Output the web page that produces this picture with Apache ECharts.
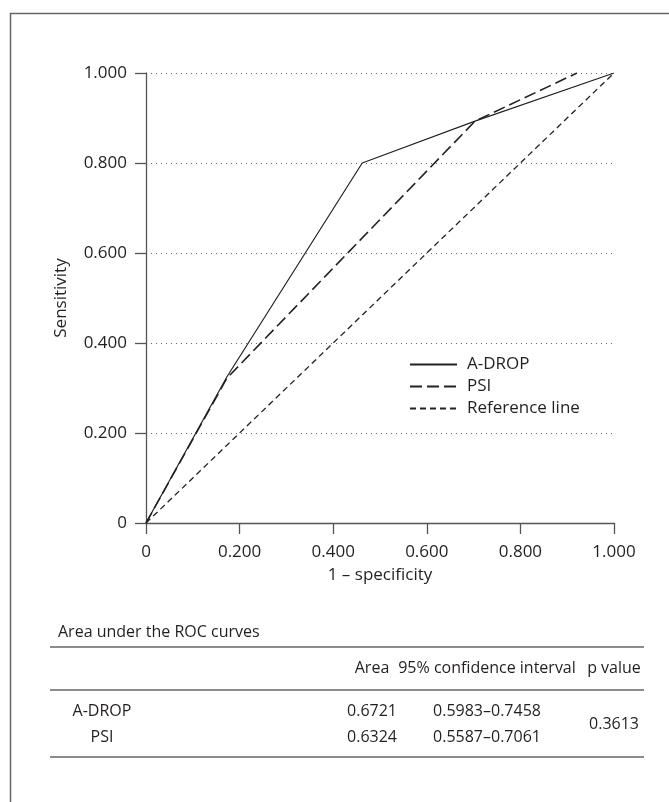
<!DOCTYPE html>
<html>
<head>
<meta charset="utf-8">
<script src="https://cdn.jsdelivr.net/npm/echarts@6/dist/echarts.min.js"></script>
<style>
html,body{margin:0;padding:0;background:#fff;}
#chart{width:669px;height:802px;}
</style>
</head>
<body>
<div id="chart"></div>
<script>
// ---- data ----
const adropX = [0, 0.173, 0.462, 0.703, 1.0];
const adropY = [0, 0.325, 0.800, 0.893, 1.0];
const psiX = [0, 0.173, 0.703, 0.921];
const psiY = [0, 0.322, 0.893, 1.0];
const refX = [0, 1];
const refY = [0, 1];
const seriesNames = ['A-DROP', 'PSI', 'Reference line'];

const tableTitle = 'Area under the ROC curves';
const tableHeader = ['', 'Area', '95% confidence interval', 'p value'];
const rowNames = ['A-DROP', 'PSI'];
const rowAreas = ['0.6721', '0.6324'];
const rowCI = ['0.5983\u20130.7458', '0.5587\u20130.7061'];
const pValue = '0.3613';

const FONT = '"Open Sans", sans-serif';
const TXT = '#231f20';
const AX = '#555';

function pairs(xs, ys) { return xs.map((x, i) => [x, ys[i]]); }
function fmt(v) { return v === 0 ? '0' : v.toFixed(3); }

const chart = echarts.init(document.getElementById('chart'), null, {renderer: 'canvas'});

const colX = [102, 372, 487, 614];
const tableLeft = 50, tableRight = 644;
const lineY = [647, 690, 757];
const headerY = 668;
const rowY = [711, 737];
const TF = '16px ' + FONT;

const graphics = [
  {type: 'rect', shape: {x: 10.5, y: 13.5, width: 800, height: 900},
   style: {fill: 'none', stroke: '#666', lineWidth: 1.5}, silent: true},
  {type: 'text', x: 58, y: 632,
   style: {text: tableTitle, font: TF, fill: TXT, textVerticalAlign: 'middle'}}
];
lineY.forEach(y => graphics.push({type: 'line', shape: {x1: tableLeft, y1: y, x2: tableRight, y2: y},
  style: {stroke: '#666', lineWidth: 1.5}}));
tableHeader.forEach((h, i) => { if (h) graphics.push({type: 'text', x: colX[i], y: headerY,
  style: {text: h, font: TF, fill: TXT, textAlign: 'center', textVerticalAlign: 'middle'}}); });
rowNames.forEach((n, r) => {
  [n, rowAreas[r], rowCI[r]].forEach((t, c) => graphics.push({type: 'text', x: colX[c], y: rowY[r],
    style: {text: t, font: TF, fill: TXT, textAlign: 'center', textVerticalAlign: 'middle'}}));
});
graphics.push({type: 'text', x: colX[3], y: (rowY[0] + rowY[1]) / 2,
  style: {text: pValue, font: TF, fill: TXT, textAlign: 'center', textVerticalAlign: 'middle'}});

const axisCommon = {
  type: 'value', min: 0, max: 1, interval: 0.2,
  axisLine: {show: true, lineStyle: {color: AX, width: 1.3}},
  axisTick: {show: true, length: 11, lineStyle: {color: AX, width: 1.3}},
  axisLabel: {formatter: fmt, fontFamily: FONT, fontSize: 17, color: TXT},
  nameLocation: 'middle',
  nameTextStyle: {fontFamily: FONT, fontSize: 17, color: TXT}
};

chart.setOption({
  animation: false,
  backgroundColor: '#fff',
  grid: {left: 146, right: 55, top: 73, bottom: 279, containLabel: false},
  xAxis: Object.assign({}, axisCommon, {
    name: '1 \u2013 specificity', nameGap: 44,
    splitLine: {show: false},
    axisLabel: Object.assign({}, axisCommon.axisLabel, {margin: 21})
  }),
  yAxis: Object.assign({}, axisCommon, {
    name: 'Sensitivity', nameGap: 76,
    splitLine: {show: true, lineStyle: {type: [1, 4], color: '#666', width: 1}},
    axisLabel: Object.assign({}, axisCommon.axisLabel, {margin: 19})
  }),
  legend: {
    orient: 'vertical', left: 404, top: 351,
    itemWidth: 47, itemHeight: 12, itemGap: 5,
    itemStyle: {opacity: 0},
    textStyle: {fontFamily: FONT, fontSize: 17, color: TXT, padding: [0, 0, 0, 5]},
    data: seriesNames
  },
  series: [
    {name: seriesNames[0], type: 'line', data: pairs(adropX, adropY), symbol: 'none',
     lineStyle: {color: '#222', width: 1.2, type: 'solid'}, itemStyle: {color: '#222'}},
    {name: seriesNames[1], type: 'line', data: pairs(psiX, psiY), symbol: 'none',
     lineStyle: {color: '#222', width: 1.6, type: [12, 5]}, itemStyle: {color: '#222'}},
    {name: seriesNames[2], type: 'line', data: pairs(refX, refY), symbol: 'none',
     lineStyle: {color: '#222', width: 1.3, type: [6, 4]}, itemStyle: {color: '#222'}}
  ],
  graphic: graphics
});
</script>
</body>
</html>
